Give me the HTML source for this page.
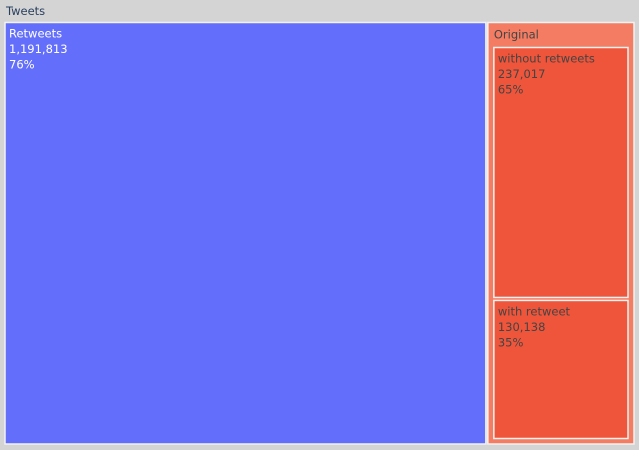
<!DOCTYPE html>
<html><head><meta charset="utf-8"><style>
html,body{margin:0;padding:0;background:#d4d4d4;}
svg{display:block;font-family:"DejaVu Sans","Liberation Sans",sans-serif;font-size:11.5px;}
</style></head><body>
<svg id="chart" width="639" height="450">
<rect x="0" y="0" width="639" height="450" fill="#d4d4d4"></rect>
<text x="6" y="15" fill="#2a3f5f">Tweets</text>
</svg>
<script>
const categories = ["Retweets", "Original"];
const topValues = [1191813, 367155];
const childLabels = ["without retweets", "with retweet"];
const childValues = [237017, 130138];

const svg = document.getElementById('chart');
const NS = 'http://www.w3.org/2000/svg';
function fmt(n){return n.toLocaleString('en-US');}
function rect(x,y,w,h,fill,name){
  const r=document.createElementNS(NS,'rect');
  r.setAttribute('x',x);r.setAttribute('y',y);r.setAttribute('width',w);r.setAttribute('height',h);
  r.setAttribute('fill',fill);r.setAttribute('stroke','#f2f2f2');r.setAttribute('stroke-width','1.5');
  
  
  svg.appendChild(r);
}
function text(x,y,lines,color,name){
  const t=document.createElementNS(NS,'text');
  t.setAttribute('fill',color);
  
  
  lines.forEach((l,i)=>{const s=document.createElementNS(NS,'tspan');s.setAttribute('x',x);s.setAttribute('y',y+i*15.5);s.textContent=l;t.appendChild(s);});
  svg.appendChild(t);
}
const X0=5,X1=634,Y0=22.5,Y1=444;
const total=topValues.reduce((a,b)=>a+b,0);
const rw=(X1-X0)*topValues[0]/total;
rect(X0,Y0,rw,Y1-Y0,'#636efa','retweets-tile');
text(X0+4,Y0+15,[categories[0],fmt(topValues[0]),Math.round(100*topValues[0]/total)+'%'],'#ffffff','retweets-label');
const ox=X0+rw+2, ow=X1-ox;
rect(ox,Y0,ow,Y1-Y0,'#f37c62','original-tile');
text(ox+6,Y0+16,[categories[1]],'#444444','original-label');
const cx=ox+6, cw=ow-12, cy0=47.5, cy1=Y1-7;
const ct=childValues.reduce((a,b)=>a+b,0);
let y=cy0;
childValues.forEach((v,i)=>{
  const h=(cy1-cy0)*v/ct;
  const gap=i<childValues.length-1?1.5:0;
  rect(cx,y,cw,h-gap,'#ef553b','child-tile-'+i);
  text(cx+4,y+15,[childLabels[i],fmt(v),Math.round(100*v/ct)+'%'],'#444444','child-label-'+i);
  y+=h+1.5;
});
</script>
</body></html>
